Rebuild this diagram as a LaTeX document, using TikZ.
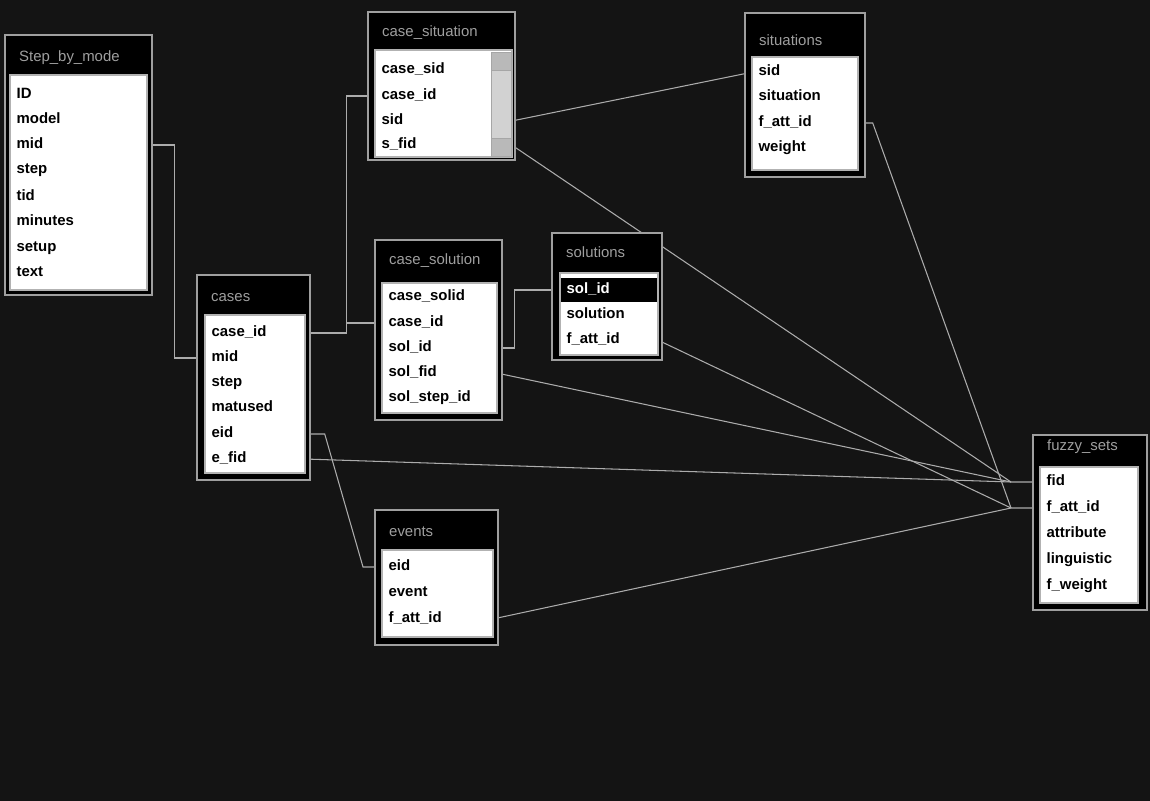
\documentclass[tikz,border=0pt]{standalone}
\usepackage{fontspec}
\setmainfont{Liberation Sans}
\usetikzlibrary{calc,backgrounds}

\begin{document}
\begin{tikzpicture}[x=0.02cm, y=-0.02cm,
  frame/.style={draw=gray!75, line width=0.8pt, fill=black, inner sep=0pt},
  list/.style={draw=gray!60, line width=0.6pt, fill=white, inner sep=0pt},
  title/.style={anchor=west, text=gray!75, font=\fontsize{8.5}{10}\selectfont},
  field/.style={anchor=west, inner xsep=3pt, inner ysep=1pt, text height=6.5pt, text depth=2pt, align=left, font=\fontsize{8.5}{10}\selectfont\bfseries},
  rel/.style={draw=gray!65, line width=0.6pt}]
\useasboundingbox (0,0) rectangle (1150,801);

% Step_by_mode
\node[frame, minimum width=2.94cm, minimum height=5.2cm] (sbm) at (78.5,165) {};
\node[title] (sbm-t) at (13,58) {Step\_by\_mode};
\node[list, minimum width=2.74cm, minimum height=4.3cm] (sbm-l) at (78.5,182.5) {};
\foreach \n/\l/\y in {id/ID/95,model/model/120,mid/mid/145,step/step/170,tid/tid/197,minutes/minutes/222,setup/setup/248,text/text/273}
  \node[field, text width=2.49cm] (sbm-\n) at (11,\y) {\l};

% case_situation
\node[frame, minimum width=2.94cm, minimum height=2.96cm] (cs) at (441.5,86) {};
\node[title] (cs-t) at (376,33) {case\_situation};
\node[list, minimum width=2.74cm, minimum height=2.14cm] (cs-l) at (443.5,103.5) {};
\foreach \n/\l/\y in {casesid/case\_sid/70,caseid/case\_id/96,sid/sid/121,sfid/s\_fid/145}
  \node[field, text width=2.49cm] (cs-\n) at (376,\y) {\l};
\draw[gray!70, fill=gray!35] (491,52) rectangle (511,156);
\draw[gray!70, fill=gray!55] (491,52) rectangle (511,70) (491,138) rectangle (511,156);

% situations
\node[frame, minimum width=2.4cm, minimum height=3.28cm] (sit) at (805,95) {};
\node[title] (sit-t) at (753,40) {situations};
\node[list, minimum width=2.12cm, minimum height=2.26cm] (sit-l) at (805,113.5) {};
\foreach \n/\l/\y in {sid/sid/72,situation/situation/97,fatt/f\_att\_id/123,weight/weight/148}
  \node[field, text width=1.87cm] (sit-\n) at (753,\y) {\l};

% cases
\node[frame, minimum width=2.26cm, minimum height=4.1cm] (cases) at (253.5,377.5) {};
\node[title] (cases-t) at (205,298) {cases};
\node[list, minimum width=2.0cm, minimum height=3.16cm] (cases-l) at (255,394) {};
\foreach \n/\l/\y in {caseid/case\_id/333,mid/mid/358,step/step/383,matused/matused/408,eid/eid/434,efid/e\_fid/459}
  \node[field, text width=1.75cm] (cases-\n) at (206,\y) {\l};

% case_solution
\node[frame, minimum width=2.54cm, minimum height=3.6cm] (csol) at (438.5,330) {};
\node[title] (csol-t) at (383,261) {case\_solution};
\node[list, minimum width=2.3cm, minimum height=2.6cm] (csol-l) at (439.5,348) {};
\foreach \n/\l/\y in {casesolid/case\_solid/297,caseid/case\_id/323,solid/sol\_id/348,solfid/sol\_fid/373,solstepid/sol\_step\_id/398}
  \node[field, text width=2.05cm] (csol-\n) at (383,\y) {\l};

% solutions
\node[frame, minimum width=2.2cm, minimum height=2.54cm] (sol) at (607,296.5) {};
\node[title] (sol-t) at (560,252) {solutions};
\node[list, minimum width=1.96cm, minimum height=1.64cm] (sol-l) at (609,314) {};
\node[field, text width=1.71cm, inner ysep=2.5pt, fill=black, text=white] (sol-solid) at (561,290) {sol\_id};
\foreach \n/\l/\y in {solution/solution/315,fatt/f\_att\_id/340}
  \node[field, text width=1.71cm] (sol-\n) at (561,\y) {\l};

% fuzzy_sets
\node[frame, minimum width=2.28cm, minimum height=3.5cm] (fz) at (1090,522.5) {};
\node[title] (fz-t) at (1041,447) {fuzzy\_sets};
\node[list, minimum width=1.96cm, minimum height=2.72cm] (fz-l) at (1089,535) {};
\foreach \n/\l/\y in {fid/fid/482,fatt/f\_att\_id/508,attribute/attribute/534,linguistic/linguistic/560,fweight/f\_weight/586}
  \node[field, text width=1.71cm] (fz-\n) at (1041,\y) {\l};

% events
\node[frame, minimum width=2.46cm, minimum height=2.7cm] (ev) at (436.5,577.5) {};
\node[title] (ev-t) at (383,532) {events};
\node[list, minimum width=2.22cm, minimum height=1.74cm] (ev-l) at (437.5,593.5) {};
\foreach \n/\l/\y in {eid/eid/567,event/event/593,fatt/f\_att\_id/619}
  \node[field, text width=1.97cm] (ev-\n) at (383,\y) {\l};

% relationships
\coordinate (fzin) at ($(fz-fid.west)+(-30,0)$);
\coordinate (fzin2) at ($(fz-fatt.west)+(-30,0)$);
\begin{scope}[on background layer]
\fill[black!92] (0,0) rectangle (1150,801);
\draw[rel] (sbm-mid.east) -- ++(28,0) |- (cases-mid.west);
\draw[rel] (cases-caseid.east) -- ++(42,0) |- (cs-caseid.west);
\draw[rel] (cases-caseid.east) -- ++(42,0) |- (csol-caseid.west);
\draw[rel] (cases-eid.east) -- ++(20,0) -- ($(ev-eid.west)+(-20,0)$) -- (ev-eid.west);
\draw[rel] (cs-sid.east) -- (sit-sid.west);
\draw[rel] (csol-solid.east) -- ++(18,0) |- (sol-solid.west);
\draw[rel] (cs-sfid.east) -- (fzin) -- (fz-fid.west);
\draw[rel] (csol-solfid.east) -- (fzin);
\draw[rel] (cases-efid.east) -- (fzin);
\draw[rel] (sit-fatt.east) -- ++(15,0) -- (fzin2) -- (fz-fatt.west);
\draw[rel] (sol-fatt.east) -- (fzin2);
\draw[rel] (ev-fatt.east) -- (fzin2);
\end{scope}
\end{tikzpicture}
\end{document}
